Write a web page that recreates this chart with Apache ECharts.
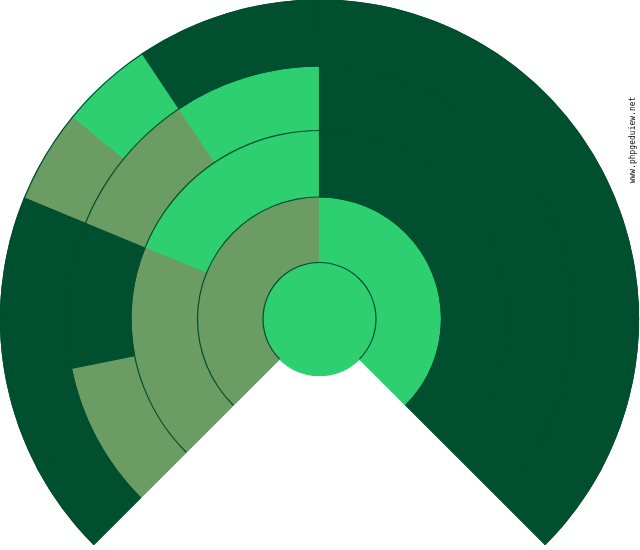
<!DOCTYPE html>
<html>
<head>
<meta charset="utf-8">
<script src="https://cdn.jsdelivr.net/npm/echarts@6/dist/echarts.min.js"></script>
<style>
  html, body { margin: 0; padding: 0; background: #fff; }
  #chart { width: 640px; height: 550px; }
</style>
</head>
<body>
<div id="chart"></div>
<script>
// shades used by the nodes
var palette = {
    dark: '#004f2f',
    bright: '#2ecf71',
    grey: '#6b9c64'
};

// node shades per ring, ordered clockwise from the lower-left edge
var rootShade = 'bright';
var ring1Shades = ['grey', 'bright'];
var ring2Shades = ['grey', 'bright', 'dark', 'dark'];
var ring3Shades = ['grey', 'dark', 'grey', 'bright', 'dark', 'dark', 'dark', 'dark'];
var ring4Shades = ['dark', 'dark', 'dark', 'dark', 'grey', 'bright', 'dark', 'dark',
                   'dark', 'dark', 'dark', 'dark', 'dark', 'dark', 'dark', 'dark'];
var leafValues = [1, 1, 1, 1, 1, 1, 1, 1, 1, 1, 1, 1, 1, 1, 1, 1];
var emptyValue = 5.333; // the open wedge at the bottom (90 of 360 degrees)

var ringShades = [ring1Shades, ring2Shades, ring3Shades, ring4Shades];
var ringRadius = [56.5, 122, 188.5, 253, 319];
var center = [319.5, 319];

// border in the fill colour hides the hairline seams between sectors
function shadeStyle(shade) {
    return {
        color: palette[shade],
        borderColor: palette[shade],
        borderWidth: 1.2,
        borderJoin: 'round'
    };
}

function buildNode(depth, index) {
    var node = {
        name: 'n' + depth + '-' + index,
        itemStyle: shadeStyle(ringShades[depth][index])
    };
    if (depth === ringShades.length - 1) {
        node.value = leafValues[index];
    } else {
        node.children = [buildNode(depth + 1, index * 2), buildNode(depth + 1, index * 2 + 1)];
    }
    return node;
}

var sunData = [{
    name: 'root',
    itemStyle: shadeStyle(rootShade),
    children: [
        buildNode(0, 0),
        buildNode(0, 1),
        { name: 'empty', value: emptyValue, itemStyle: { color: 'rgba(0,0,0,0)', borderWidth: 0 } }
    ]
}];

// thin dark arcs along every ring edge (no radial lines in the original)
var arcSeries = ringRadius.map(function (r) {
    return {
        type: 'pie',
        silent: true,
        center: center,
        radius: [r - 0.6, r + 0.6],
        startAngle: 225,
        clockwise: true,
        label: { show: false },
        labelLine: { show: false },
        emphasis: { disabled: true },
        itemStyle: { borderWidth: 0 },
        data: [
            { value: 270, itemStyle: { color: palette.dark } },
            { value: 90, itemStyle: { color: 'rgba(0,0,0,0)' } }
        ]
    };
});

var myChart = echarts.init(document.getElementById('chart'));
var option = {
    animation: false,
    graphic: [{
        type: 'text',
        x: 633,
        y: 140,
        rotation: Math.PI / 2,
        style: {
            text: 'www.phpgeduiew.net',
            font: '8px "DejaVu Sans Mono"',
            fill: '#111',
            textAlign: 'center',
            textVerticalAlign: 'middle'
        }
    }],
    series: [{
        type: 'sunburst',
        center: center,
        radius: [0, ringRadius[4]],
        startAngle: 225,
        clockwise: true,
        sort: null,
        nodeClick: false,
        silent: true,
        emphasis: { disabled: true },
        label: { show: false },
        levels: [
            {},
            { r0: 0, r: ringRadius[0] },
            { r0: ringRadius[0], r: ringRadius[1] },
            { r0: ringRadius[1], r: ringRadius[2] },
            { r0: ringRadius[2], r: ringRadius[3] },
            { r0: ringRadius[3], r: ringRadius[4] }
        ],
        data: sunData
    }].concat(arcSeries)
};
myChart.setOption(option);
</script>
</body>
</html>
